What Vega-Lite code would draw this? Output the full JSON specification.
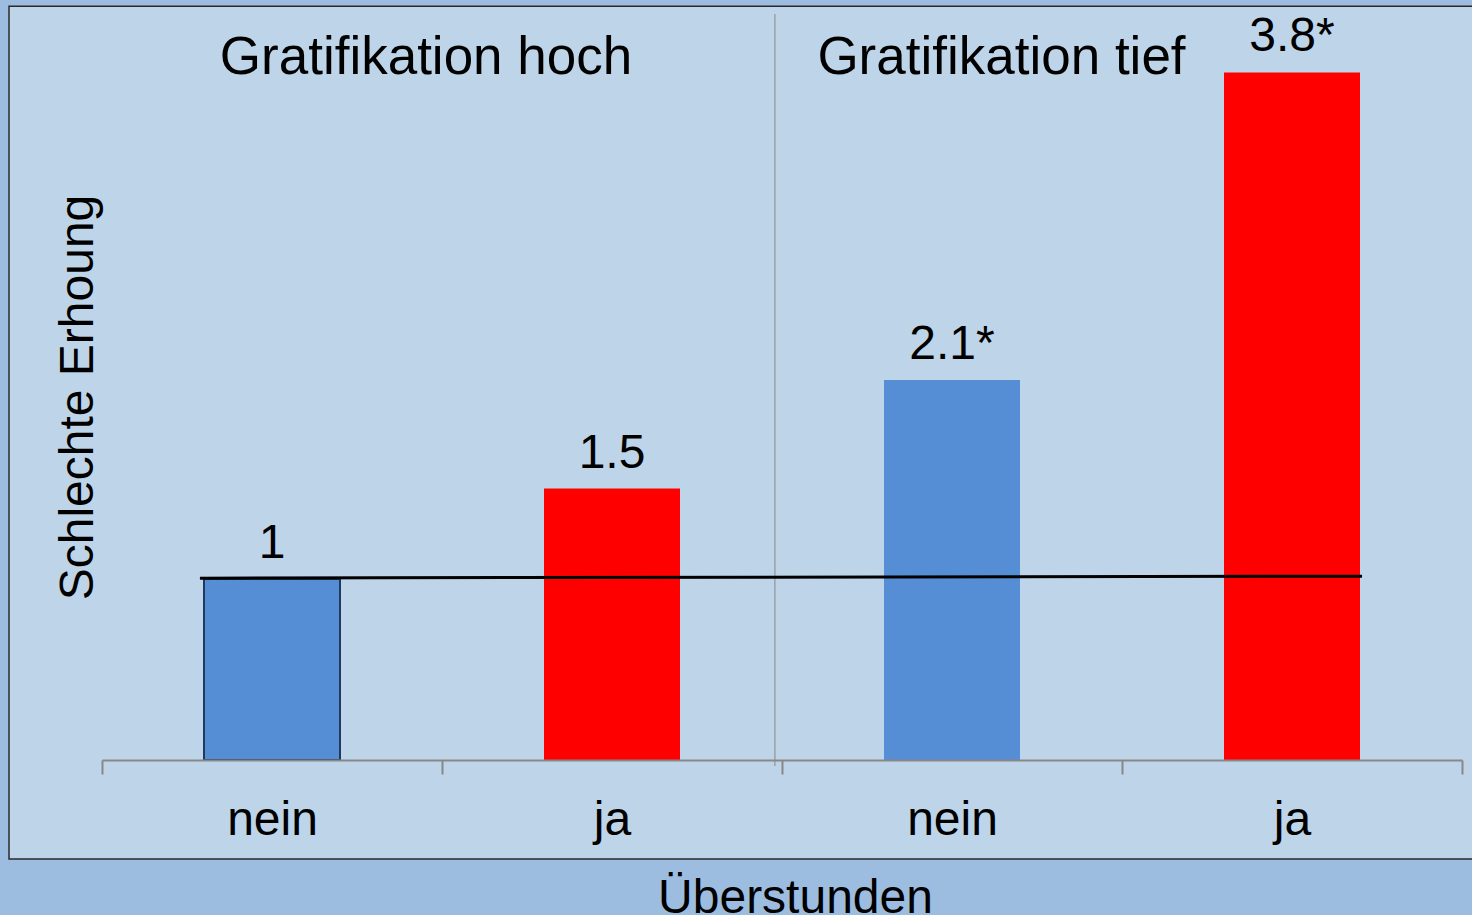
{
  "$schema": "https://vega.github.io/schema/vega-lite/v6.json",
  "width": 1360,
  "height": 760,
  "autosize": {"type": "none"},
  "padding": {"left": 102, "top": 0, "right": 10, "bottom": 155},
  "background": "#9dbde0",
  "config": {
    "view": {"stroke": null},
    "font": "Liberation Sans",
    "axis": {"grid": false}
  },
  "datasets": {
    "bars": [
      {"cat": "hoch|nein", "ot": "nein", "v": 1, "label": "1"},
      {"cat": "hoch|ja", "ot": "ja", "v": 1.5, "label": "1.5"},
      {"cat": "tief|nein", "ot": "nein", "v": 2.1, "label": "2.1*"},
      {"cat": "tief|ja", "ot": "ja", "v": 3.8, "label": "3.8*"}
    ],
    "panel": [{"x1": -0.2735, "x2": 4.2, "y1": -0.547, "y2": 4.166}],
    "divider": [{"x": 1.979, "y1": -0.033, "y2": 4.123}],
    "refline": [{"x": 0.288, "y": 1.005}, {"x": 3.706, "y": 1.016}],
    "groups": [
      {"x": 0.953, "y": 3.791, "text": "Gratifikation hoch"},
      {"x": 2.6456, "y": 3.791, "text": "Gratifikation tief"}
    ]
  },
  "resolve": {"scale": {"x": "independent"}, "axis": {"x": "independent"}},
  "layer": [
    {
      "data": {"name": "panel"},
      "mark": {"type": "rect", "fill": "#bed4e8", "stroke": "#2a2a2a", "strokeWidth": 1.5},
      "encoding": {
        "x": {"field": "x1", "type": "quantitative", "scale": {"domain": [0, 4], "nice": false, "zero": false}, "axis": null},
        "x2": {"field": "x2"},
        "y": {
          "field": "y1", "type": "quantitative", "scale": {"domain": [0, 4.2], "nice": false},
          "title": "Schlechte Erhoung",
          "axis": {
            "zindex": 2,
            "labels": false, "ticks": false, "domain": false, "grid": false,
            "titleFontSize": 48, "titleFontWeight": "normal", "titleColor": "#000000",
            "titleFont": "Liberation Sans",
            "titleAngle": -90, "titleX": -10, "titleY": 397, "titleBaseline": "alphabetic", "titleAlign": "center"
          }
        },
        "y2": {"field": "y2"}
      }
    },
    {
      "data": {"name": "divider"},
      "mark": {"type": "rule", "color": "#a0a0a0", "strokeWidth": 1.5},
      "encoding": {
        "x": {"field": "x", "type": "quantitative", "scale": {"domain": [0, 4], "nice": false, "zero": false}, "axis": null},
        "y": {"field": "y1", "type": "quantitative", "title": "Schlechte Erhoung"},
        "y2": {"field": "y2"}
      }
    },
    {
      "data": {"name": "bars"},
      "mark": {"type": "bar", "strokeWidth": 2},
      "encoding": {
        "x": {"field": "cat", "type": "nominal", "sort": null, "scale": {"paddingInner": 0.6, "paddingOuter": 0.3}, "axis": null},
        "y": {"field": "v", "type": "quantitative", "title": "Schlechte Erhoung"},
        "color": {"field": "ot", "type": "nominal", "scale": {"domain": ["nein", "ja"], "range": ["#558ed5", "#ff0000"]}, "legend": null},
        "stroke": {"condition": {"test": "datum.cat === 'hoch|nein'", "value": "#1f3a5c"}, "value": "transparent"}
      }
    },
    {
      "data": {"name": "refline"},
      "mark": {"type": "line", "color": "#000000", "strokeWidth": 3},
      "encoding": {
        "x": {"field": "x", "type": "quantitative", "scale": {"domain": [0, 4], "nice": false, "zero": false}, "axis": null},
        "y": {"field": "y", "type": "quantitative", "title": "Schlechte Erhoung"}
      }
    },
    {
      "data": {"name": "bars"},
      "mark": {"type": "text", "fontSize": 48, "baseline": "alphabetic", "align": "center", "dy": -21, "color": "#000000", "font": "Liberation Sans"},
      "encoding": {
        "x": {
          "field": "cat", "type": "nominal", "sort": null,
          "scale": {"paddingInner": 0, "paddingOuter": 0},
          "axis": {
            "zindex": 2,
            "title": "Überstunden", "labelExpr": "split(datum.label, '|')[1]",
            "labelAngle": 0, "labelFontSize": 48, "labelColor": "#000000", "labelFont": "Liberation Sans",
            "labelPadding": 60, "labelBaseline": "alphabetic",
            "tickBand": "extent", "tickSize": 14, "tickWidth": 2, "tickColor": "#888888",
            "domainColor": "#888888", "domainWidth": 2,
            "titleFontSize": 48, "titleFontWeight": "normal", "titleColor": "#000000", "titleFont": "Liberation Sans",
            "titleX": 693, "titleY": 152, "titleBaseline": "alphabetic", "titleAlign": "center"
          }
        },
        "y": {"field": "v", "type": "quantitative", "title": "Schlechte Erhoung"},
        "text": {"field": "label"}
      }
    },
    {
      "data": {"name": "groups"},
      "mark": {"type": "text", "fontSize": 53, "baseline": "alphabetic", "align": "center", "color": "#000000", "font": "Liberation Sans"},
      "encoding": {
        "x": {"field": "x", "type": "quantitative", "scale": {"domain": [0, 4], "nice": false, "zero": false}, "axis": null},
        "y": {"field": "y", "type": "quantitative", "title": "Schlechte Erhoung"},
        "text": {"field": "text"}
      }
    }
  ]
}
